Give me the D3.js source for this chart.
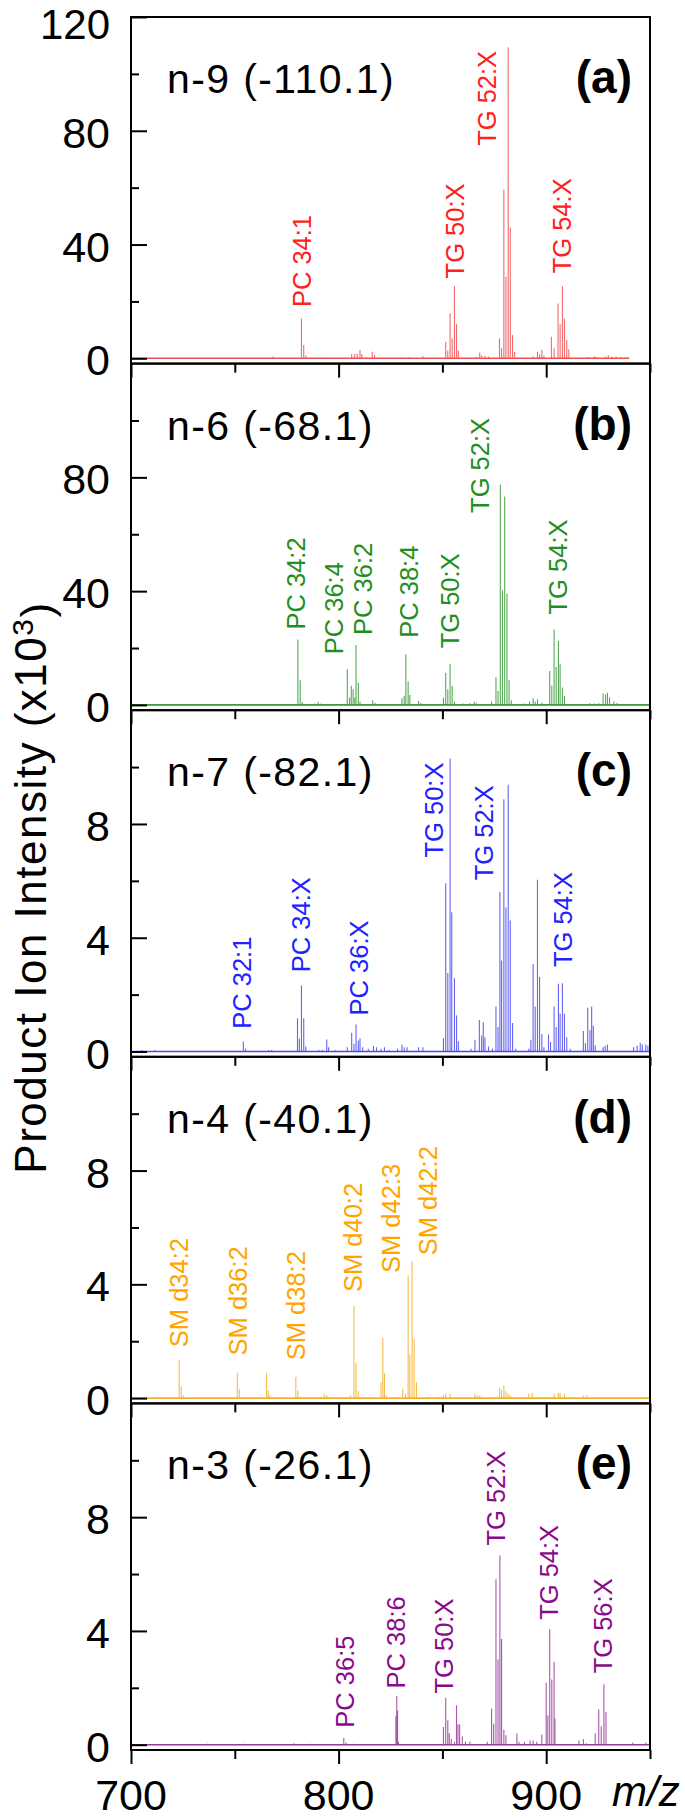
<!DOCTYPE html>
<html><head><meta charset="utf-8">
<script src="https://cdn.jsdelivr.net/npm/d3@7"></script>
<style>html,body{margin:0;padding:0;background:#fff;}svg{display:block;font-family:"Liberation Sans",Arial,sans-serif;}</style>
</head><body>
<div id="chart"></div>
<script>
// ---------- data ----------
const panelTitles = ["n-9 (-110.1)", "n-6 (-68.1)", "n-7 (-82.1)", "n-4 (-40.1)", "n-3 (-26.1)"];
const panelTags = ["(a)", "(b)", "(c)", "(d)", "(e)"];
const panelMax = [120, 120, 12, 12, 12];
const panelColors = ["#ff2020", "#1f8f1f", "#2222ff", "#ffa500", "#8b0a8b"];
const barColors = ["#f25050", "#3a9a3a", "#4a4af0", "#f2b030", "#9a3a9a"];
const yTickLabels = [[0, 40, 80, 120], [0, 40, 80], [0, 4, 8], [0, 4, 8], [0, 4, 8]];
const yMinorTicks = [[20, 60, 100], [20, 60, 100], [2, 6, 10], [2, 6, 10], [2, 6, 10]];
const xTickLabels = [700, 800, 900];
const xMinorTicks = [750, 850, 950];
const baselineEnd = [940, 950, 950, 950, 950];

// panel (a) n-9
const mzA = [768.4, 782.1, 783.2, 784.2, 792.6, 806.3, 807.8, 809.0, 810.3, 811.2, 816.2, 817.3, 830.5, 833.7, 840.6,
  851.6, 852.6, 853.7, 854.7, 855.8, 856.8, 857.7, 866.3, 868.0, 869.0, 870.5, 872.2,
  877.5, 878.5, 879.6, 880.6, 881.7, 882.7, 883.8, 884.8, 893.7, 895.8, 896.8, 897.9, 898.9,
  902.5, 903.8, 905.7, 906.7, 907.8, 908.8, 909.9, 910.9, 920.0, 923.2, 924.2, 928.4, 929.9, 931.6, 933.7, 935.8, 939.0];
const intA = [0.6, 14.0, 4.7, 1.0, 0.3, 1.5, 1.5, 1.6, 2.9, 1.5, 2.3, 1.2, 0.4, 0.4, 0.7,
  5.8, 2.7, 15.8, 7.0, 25.4, 12.0, 2.7, 0.5, 2.0, 1.0, 0.8, 0.6,
  7.0, 3.5, 59.3, 28.7, 109.4, 46.0, 8.2, 2.3, 0.6, 2.3, 1.4, 2.9, 1.0,
  7.6, 3.5, 19.3, 12.0, 25.4, 14.0, 6.4, 3.2, 0.5, 0.7, 0.4, 0.6, 1.2, 0.6, 0.6, 0.4, 0.3];
const labelsA = ["PC 34:1", "TG 50:X", "TG 52:X", "TG 54:X"];
const labelsA_mz = [782.4, 855.8, 871.6, 907.4];
const labelsA_y = [18.0, 28.1, 74.7, 29.9];

// panel (b) n-6
const mzB = [764.2, 780.4, 781.5, 782.5, 788.4, 790.1, 791.6, 793.7, 804.2, 805.3, 806.1, 807.0, 807.8, 808.4, 809.5, 810.3,
  816.4, 817.5, 830.5, 831.6, 832.4, 833.5, 834.3, 838.5, 839.6,
  850.5, 851.6, 852.6, 853.7, 854.7, 855.8, 860.0, 863.2, 865.3, 866.3,
  873.7, 875.8, 876.8, 877.9, 878.9, 880.0, 881.1, 882.1, 883.2, 889.5, 892.0, 893.7, 894.7, 895.8, 897.9,
  901.7, 902.7, 903.8, 904.8, 905.9, 906.7, 907.8, 908.8, 918.9, 921.0, 923.2, 925.3, 927.4, 928.6, 929.5, 930.5, 932.6, 934.1];
const intB = [0.2, 23.0, 8.7, 1.0, 0.5, 1.0, 0.5, 0.3, 12.5, 2.6, 6.7, 5.5, 2.6, 21.1, 7.8, 1.2,
  1.6, 0.8, 2.3, 3.2, 17.8, 8.2, 3.5, 1.4, 0.7,
  2.6, 11.3, 5.5, 14.5, 6.7, 1.2, 0.5, 0.6, 1.2, 0.8,
  1.2, 9.8, 4.9, 77.4, 40.2, 73.3, 39.1, 8.7, 1.6, 0.5, 1.2, 2.3, 1.2, 2.0, 0.8,
  11.9, 6.7, 26.5, 13.3, 22.5, 14.3, 6.1, 3.2, 0.3, 0.6, 0.5, 0.6, 4.0, 3.7, 4.3, 2.6, 1.2, 0.7];
const labelsB = ["PC 34:2", "PC 36:4", "PC 36:2", "PC 38:4", "TG 50:X", "TG 52:X", "TG 54:X"];
const labelsB_mz = [779.6, 797.9, 811.6, 833.7, 853.7, 867.8, 905.7];
const labelsB_y = [26.5, 17.8, 24.6, 23.6, 19.9, 67.5, 31.8];

// panel (c) n-7
const mzC = [705.3, 711.6, 754.1, 755.2, 766.3, 767.8, 780.2, 781.1, 782.1, 783.2, 784.2, 790.5, 792.2, 794.3, 795.2, 798.3,
  804.2, 806.3, 807.4, 808.4, 809.5, 810.3, 811.6, 814.3, 816.8, 818.3, 820.4, 822.1, 824.2, 828.4, 830.5, 831.6, 833.0, 838.5, 840.6,
  850.5, 851.6, 852.6, 853.7, 854.5, 855.8, 856.8, 857.7, 863.8, 865.7, 867.8, 868.9, 869.7, 870.5, 872.2, 874.1,
  875.8, 876.8, 877.7, 878.5, 879.6, 880.6, 881.7, 882.7, 883.8, 885.3,
  891.6, 892.6, 893.7, 894.7, 895.8, 896.8, 897.9, 898.9, 901.1, 902.1,
  903.8, 904.8, 905.9, 906.7, 907.8, 908.8, 909.9, 911.6,
  917.9, 918.9, 920.0, 921.1, 921.9, 922.7, 923.6, 927.4, 928.4, 929.5, 942.1, 943.8, 945.3, 946.3, 948.0, 949.0];
const intC = [0.05, 0.05, 0.35, 0.1, 0.05, 0.05, 1.17, 0.45, 2.32, 1.17, 0.18, 0.05, 0.05, 0.42, 0.15, 0.05,
  0.15, 0.66, 0.27, 0.95, 0.39, 0.47, 0.15, 0.1, 0.2, 0.15, 0.1, 0.15, 0.05, 0.1, 0.25, 0.15, 0.15, 0.15, 0.15,
  0.47, 5.92, 2.76, 10.3, 4.9, 2.58, 1.27, 0.36, 0.1, 0.41, 1.11, 0.56, 1.03, 0.5, 0.18, 0.1,
  1.58, 0.86, 5.61, 3.2, 8.87, 5.06, 9.38, 4.61, 1.0, 0.1,
  0.1, 0.41, 3.08, 1.58, 6.04, 2.62, 0.62, 0.15, 0.6, 0.33,
  1.58, 0.86, 2.38, 1.33, 2.4, 1.33, 0.5, 0.1,
  0.72, 0.29, 1.54, 0.76, 1.58, 0.91, 0.21, 0.15, 0.2, 0.25, 0.15, 0.2, 0.3, 0.25, 0.25, 0.2];
const labelsC = ["PC 32:1", "PC 34:X", "PC 36:X", "TG 50:X", "TG 52:X", "TG 54:X"];
const labelsC_mz = [753.3, 781.7, 809.5, 845.7, 870.1, 907.8];
const labelsC_y = [0.8, 2.79, 1.27, 6.82, 6.02, 2.97];

// panel (d) n-4
const mzD = [723.2, 724.2, 725.3, 737.9, 751.2, 752.2, 757.9, 765.3, 766.1, 766.9, 779.4, 780.4, 781.5,
  791.6, 793.1, 794.3, 796.4, 805.7, 807.4, 808.4, 809.5, 820.4, 821.3, 822.1, 822.9,
  830.9, 832.2, 833.5, 834.3, 835.4, 836.4, 837.5, 843.2, 848.4, 850.5, 851.6, 853.7,
  865.7, 866.7, 868.0, 876.2, 877.5, 878.5, 879.6, 880.6, 881.7, 882.7, 891.6, 893.3,
  903.8, 905.9, 906.7, 908.8, 917.9, 919.6];
const intD = [1.35, 0.41, 0.1, 0.03, 0.89, 0.33, 0.03, 0.89, 0.27, 0.1, 0.74, 0.27, 0.05,
  0.05, 0.15, 0.1, 0.05, 0.09, 3.24, 1.23, 0.25, 0.56, 2.12, 0.88, 0.1,
  0.33, 0.15, 4.32, 1.54, 4.82, 2.09, 0.56, 0.05, 0.05, 0.1, 0.15, 0.15,
  0.15, 0.1, 0.1, 0.05, 0.36, 0.29, 0.45, 0.25, 0.15, 0.08, 0.15, 0.18,
  0.15, 0.18, 0.18, 0.15, 0.08, 0.1];
const labelsD = ["SM d34:2", "SM d36:2", "SM d38:2", "SM d40:2", "SM d42:3", "SM d42:2"];
const labelsD_mz = [723.2, 751.6, 779.4, 807.0, 825.3, 843.2];
const labelsD_y = [1.79, 1.5, 1.33, 3.73, 4.4, 5.02];

// panel (e) n-3
const mzE = [736.8, 754.7, 778.5, 786.3, 802.5, 803.6, 807.4, 827.6, 828.0, 828.4, 828.8,
  850.5, 851.6, 852.6, 853.3, 854.3, 855.8, 856.8, 857.5, 858.3, 859.6, 861.1, 863.2, 871.6,
  873.7, 874.7, 875.8, 876.8, 877.7, 878.5, 879.6, 880.6, 885.9, 886.9, 889.5, 892.2, 893.7, 895.4, 897.9,
  900.0, 900.8, 901.7, 902.7, 903.8, 904.2, 915.8, 917.9, 919.4,
  923.6, 925.3, 926.5, 927.8, 928.8, 941.7, 948.0];
const intE = [0.03, 0.03, 0.05, 0.03, 0.24, 0.08, 0.03, 1.0, 1.71, 1.2, 0.1,
  0.62, 1.65, 0.86, 0.4, 0.2, 0.1, 1.39, 0.72, 0.71, 0.29, 0.1, 0.1, 0.1,
  1.27, 0.74, 5.82, 3.0, 6.65, 3.72, 0.53, 0.33, 0.39, 0.1, 0.1, 0.15, 0.15, 0.1, 0.36,
  2.18, 1.04, 4.06, 2.29, 2.92, 0.92, 0.15, 0.2, 0.05,
  0.39, 1.24, 0.65, 2.13, 1.15, 0.08, 0.08];
const labelsE = ["PC 36:5", "PC 38:6", "TG 50:X", "TG 52:X", "TG 54:X", "TG 56:X"];
const labelsE_mz = [803.2, 827.4, 850.5, 875.8, 901.1, 927.4];
const labelsE_y = [0.6, 1.98, 1.8, 7.0, 4.39, 2.51];

const yTitle = "Product Ion Intensity (x10";
const yTitleSup = "3";
const xTitle = "m/z";

// ---------- layout ----------
const W = 685, H = 1820;
const left = 131, right = 650, top0 = 17, bottom = 1750;
const nP = 5, ph = (bottom - top0) / nP;

const panels = [
  {mz: mzA, v: intA, lab: labelsA, lmz: labelsA_mz, ly: labelsA_y},
  {mz: mzB, v: intB, lab: labelsB, lmz: labelsB_mz, ly: labelsB_y},
  {mz: mzC, v: intC, lab: labelsC, lmz: labelsC_mz, ly: labelsC_y},
  {mz: mzD, v: intD, lab: labelsD, lmz: labelsD_mz, ly: labelsD_y},
  {mz: mzE, v: intE, lab: labelsE, lmz: labelsE_mz, ly: labelsE_y}
];

const svg = d3.select("#chart").append("svg").attr("width", W).attr("height", H);
svg.append("rect").attr("width", W).attr("height", H).attr("fill", "#fff");

const x = d3.scaleLinear().domain([700, 950]).range([left, right]);

panels.forEach((p, i) => {
  const t = top0 + i * ph;
  const max = panelMax[i];
  const y = d3.scaleLinear().domain([-max * 0.0155, max]).range([t + ph, t]);
  const g = svg.append("g");

  // baseline
  g.append("line")
    .attr("x1", x(700)).attr("x2", x(baselineEnd[i]))
    .attr("y1", y(0)).attr("y2", y(0))
    .attr("stroke", barColors[i]).attr("stroke-width", 1.6);

  // sticks
  g.selectAll("line.bar").data(p.mz.map((m, k) => [m, p.v[k]])).join("line")
    .attr("class", "bar")
    .attr("x1", d => x(d[0])).attr("x2", d => x(d[0]))
    .attr("y1", y(0)).attr("y2", d => y(d[1]))
    .attr("stroke", barColors[i]).attr("stroke-width", 1.1).attr("stroke-opacity", 0.85);

  // peak labels
  g.selectAll("text.lab").data(p.lab.map((s, k) => [s, p.lmz[k], p.ly[k]])).join("text")
    .attr("class", "lab")
    .attr("transform", d => `translate(${x(d[1])},${y(d[2])}) rotate(-90)`)
    .attr("dy", "0.36em")
    .attr("font-size", 25.5).attr("fill", panelColors[i])
    .text(d => d[0]);

  // y axis (ticks inward)
  const yAx = d3.axisRight(y).tickValues(yTickLabels[i]).tickSize(16).tickFormat("");
  const yg = svg.append("g").attr("transform", `translate(${left},0)`).call(yAx);
  const yAxMin = d3.axisRight(y).tickValues(yMinorTicks[i]).tickSize(8).tickFormat("");
  const ygm = svg.append("g").attr("transform", `translate(${left},0)`).call(yAxMin);
  [yg, ygm].forEach(a => { a.select(".domain").remove(); a.selectAll("line").attr("stroke", "#000").attr("stroke-width", 2); });

  // y tick labels (keep the top one inside the page)
  svg.append("g").selectAll("text").data(yTickLabels[i]).join("text")
    .attr("x", 110).attr("y", d => Math.max(y(d) + 17, 39))
    .attr("text-anchor", "end").attr("font-size", d => (y(d) + 17 < 39 ? 42 : 43)).attr("fill", "#000")
    .text(d => d);

  // x axis ticks (outward, below each panel)
  const xAx = d3.axisBottom(x).tickValues(xTickLabels).tickSize(14).tickFormat("");
  const xg = svg.append("g").attr("transform", `translate(0,${t + ph})`).call(xAx);
  const xAxMin = d3.axisBottom(x).tickValues(xMinorTicks).tickSize(9).tickFormat("");
  const xgm = svg.append("g").attr("transform", `translate(0,${t + ph})`).call(xAxMin);
  [xg, xgm].forEach(a => { a.select(".domain").remove(); a.selectAll("line").attr("stroke", "#000").attr("stroke-width", 2); });

  // frame
  svg.append("rect").attr("x", left).attr("y", t).attr("width", right - left).attr("height", ph)
    .attr("fill", "none").attr("stroke", "#000").attr("stroke-width", 2);

  // panel titles
  svg.append("text").attr("x", left + 36).attr("y", t + 76)
    .attr("font-size", 41).attr("letter-spacing", 1.4).attr("fill", "#000").text(panelTitles[i]);
  svg.append("text").attr("x", 632).attr("y", t + 76).attr("text-anchor", "end")
    .attr("font-size", 46).attr("font-weight", "bold").attr("fill", "#000").text(panelTags[i]);

  if (i === nP - 1) {
    svg.append("g").selectAll("text").data(xTickLabels).join("text")
      .attr("x", d => x(d)).attr("y", 1810).attr("text-anchor", "middle")
      .attr("font-size", 43).attr("fill", "#000").text(d => d);
  }
});

// x title
svg.append("text").attr("x", 612).attr("y", 1806).attr("font-size", 42)
  .attr("font-style", "italic").attr("fill", "#000").text(xTitle);

// y title
const yt = svg.append("text")
  .attr("transform", `translate(46,${(top0 + bottom) / 2 + 4}) rotate(-90)`)
  .attr("text-anchor", "middle").attr("font-size", 44).attr("letter-spacing", 1.5).attr("fill", "#000");
yt.append("tspan").text(yTitle);
yt.append("tspan").attr("dy", "-0.45em").attr("font-size", 30).text(yTitleSup);
yt.append("tspan").attr("dy", "0.45em").text(")");
</script>
</body></html>
